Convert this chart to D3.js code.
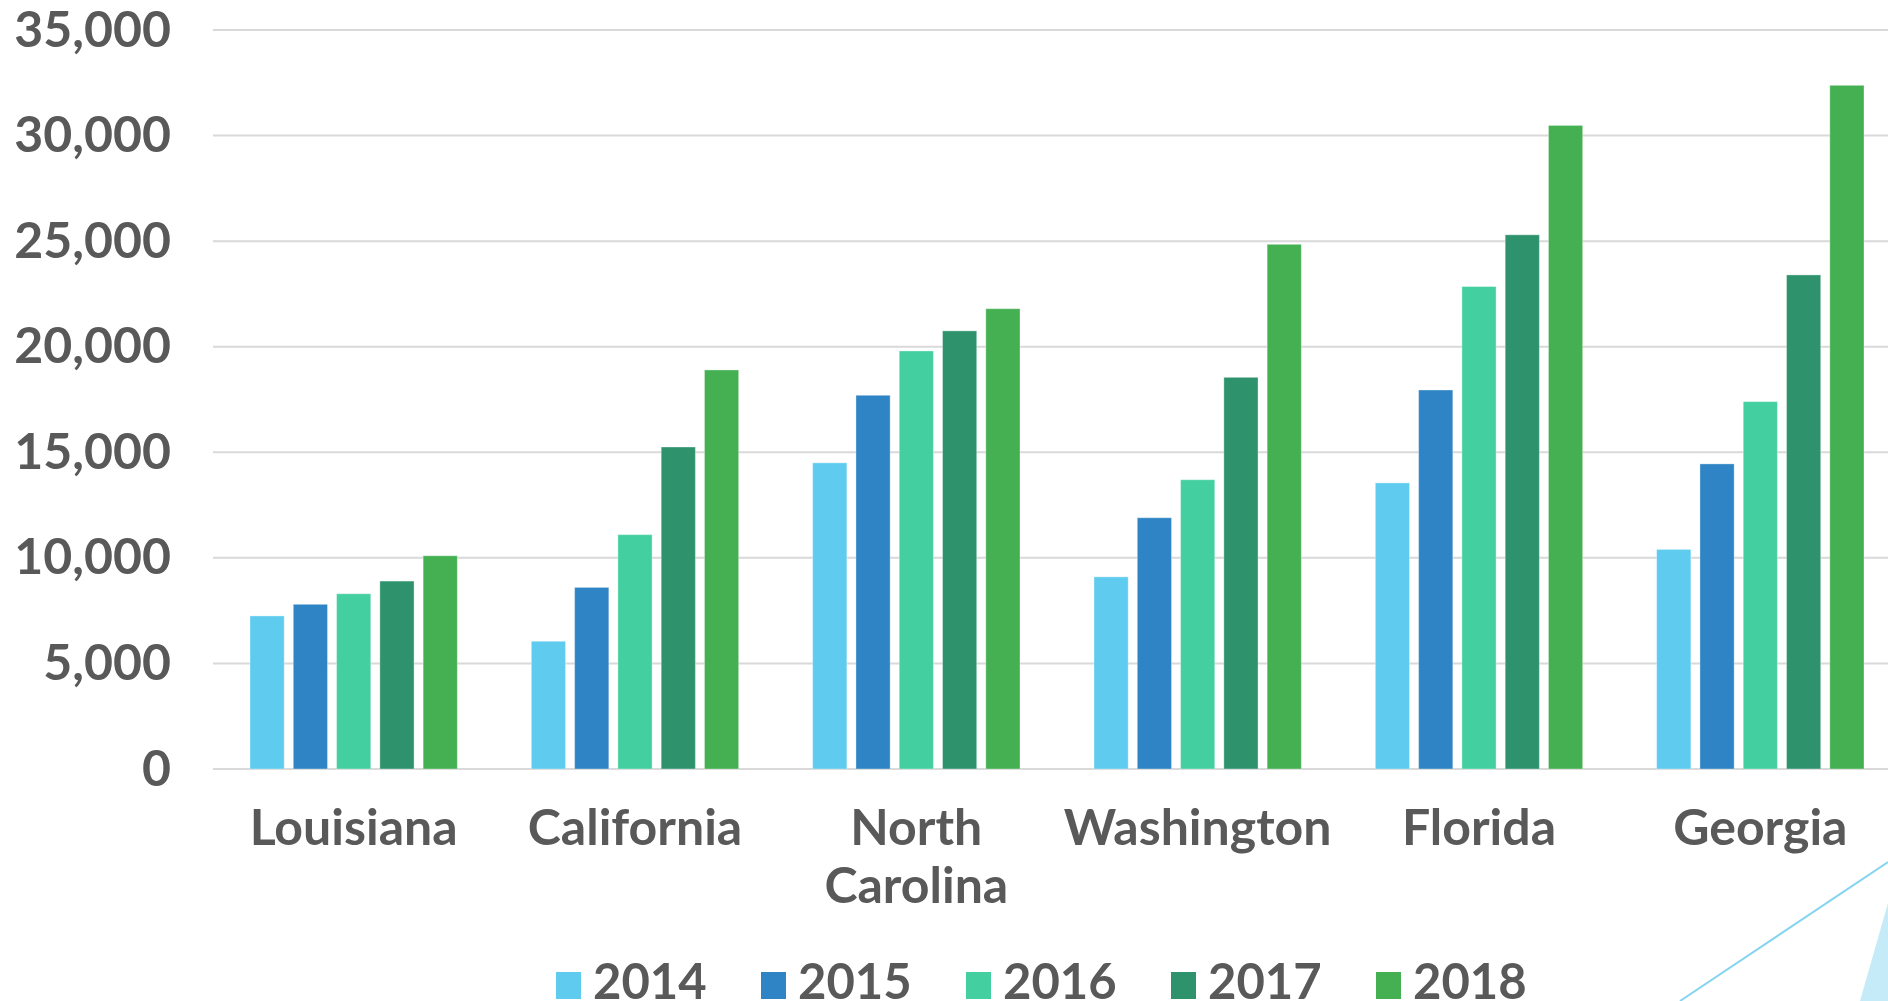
<!DOCTYPE html>
<html>
<head>
<meta charset="utf-8">
<script src="https://cdn.jsdelivr.net/npm/d3@7"></script>
<style>
  body { margin: 0; background: #fff; }
  svg text { font-family: Lato, "Open Sans", sans-serif; font-weight: bold; fill: #595959; }
</style>
</head>
<body>
<script>
var width = 1888;
var height = 1001;

// data
var states = ["Louisiana", "California", "North Carolina", "Washington", "Florida", "Georgia"];
var years = ["2014", "2015", "2016", "2017", "2018"];
var v2014 = [7250, 6050, 14500, 9100, 13550, 10400];
var v2015 = [7800, 8600, 17700, 11900, 17950, 14450];
var v2016 = [8300, 11100, 19800, 13700, 22850, 17400];
var v2017 = [8900, 15250, 20750, 18550, 25300, 23400];
var v2018 = [10100, 18900, 21800, 24850, 30480, 32380];
var yTicks = [0, 5000, 10000, 15000, 20000, 25000, 30000, 35000];
var colors = ["#5ECBEF", "#2E84C4", "#43CFA0", "#2E936C", "#44B052"];

var series = [v2014, v2015, v2016, v2017, v2018];

var svg = d3.select("body").append("svg")
    .attr("width", width)
    .attr("height", height);

var x0 = d3.scaleBand()
    .domain(states)
    .range([213, 1901]);

var x1 = d3.scaleBand()
    .domain(years)
    .range([37, x0.bandwidth() - 37])
    .paddingInner(0.21);

var y = d3.scaleLinear()
    .domain([0, 35000])
    .range([769, 30]);

var color = d3.scaleOrdinal().domain(years).range(colors);

// grid lines
svg.append("g")
  .selectAll("line")
  .data(yTicks)
  .enter().append("line")
    .attr("x1", 213)
    .attr("x2", width)
    .attr("y1", d => y(d))
    .attr("y2", d => y(d))
    .attr("stroke", "#d9d9d9")
    .attr("stroke-width", 2);

// y axis labels
var yAxis = d3.axisLeft(y)
    .tickValues(yTicks)
    .tickSize(0)
    .tickPadding(42)
    .tickFormat(d3.format(","));

svg.append("g")
    .attr("transform", "translate(213,0)")
    .call(yAxis)
    .call(g => g.select(".domain").remove())
    .selectAll("text")
      .attr("font-size", 50)
      .attr("font-family", null)
      .attr("fill", null);

// bars
var groups = svg.append("g")
  .selectAll("g")
  .data(states)
  .enter().append("g")
    .attr("transform", d => "translate(" + x0(d) + ",0)");

groups.selectAll("rect")
  .data((d, i) => years.map((yr, j) => ({ year: yr, value: series[j][i] })))
  .enter().append("rect")
    .attr("x", d => x1(d.year))
    .attr("width", x1.bandwidth())
    .attr("y", d => y(d.value))
    .attr("height", d => y(0) - y(d.value))
    .attr("fill", d => color(d.year))
    .attr("stroke", "rgba(255,255,255,0.35)")
    .attr("stroke-width", 1);

// category labels
var labels = svg.append("g")
  .selectAll("text")
  .data(states)
  .enter().append("text")
    .attr("x", d => x0(d) + x0.bandwidth() / 2)
    .attr("y", 845)
    .attr("text-anchor", "middle")
    .attr("font-size", 50);

labels.each(function(d) {
  var words = d.split(" ");
  var t = d3.select(this);
  words.forEach(function(w, i) {
    t.append("tspan")
      .attr("x", x0(d) + x0.bandwidth() / 2)
      .attr("dy", i === 0 ? 0 : 58)
      .text(w);
  });
});

// legend
var legend = svg.append("g")
  .selectAll("g")
  .data(years)
  .enter().append("g")
    .attr("transform", (d, i) => "translate(" + (556 + i * 205) + ",972)");

legend.append("rect")
    .attr("width", 25)
    .attr("height", 27)
    .attr("fill", d => color(d));

legend.append("text")
    .attr("x", 37)
    .attr("y", 27)
    .attr("font-size", 49)
    .text(d => d);

// decoration in the lower right corner
svg.append("polygon")
    .attr("points", "1860,1001 1888,903 1888,1001")
    .attr("fill", "#c5ebf8");
svg.append("line")
    .attr("x1", 1680).attr("y1", 1001)
    .attr("x2", 1888).attr("y2", 862)
    .attr("stroke", "#86d4f1")
    .attr("stroke-width", 2);
</script>
</body>
</html>
